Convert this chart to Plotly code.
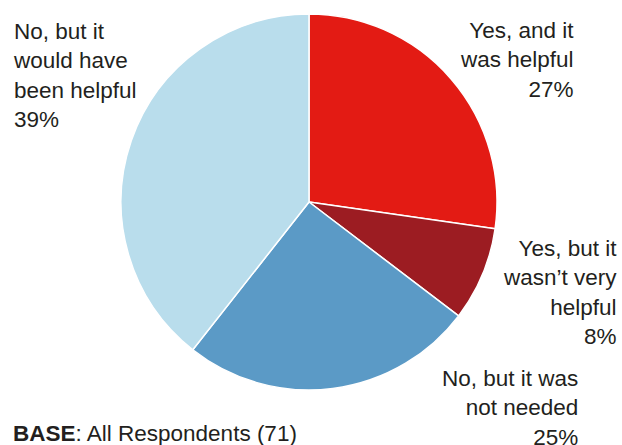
import plotly.graph_objects as go

# Survey responses, clockwise from 12 o'clock
labels = ["Yes, and it was helpful", "Yes, but it wasn’t very helpful",
          "No, but it was not needed", "No, but it would have been helpful"]
values = [27, 8, 25, 39]
colors = ["#E31B14", "#9C1C22", "#5B9AC6", "#B9DDEC"]

# Outside label text (line-broken) for each slice
label_lines = [
    ["Yes, and it", "was helpful"],
    ["Yes, but it", "wasn’t very", "helpful"],
    ["No, but it was", "not needed"],
    ["No, but it", "would have", "been helpful"],
]

W, H = 622, 445
cx, cy, r = 309, 202, 188

fig = go.Figure(go.Pie(
    labels=labels,
    values=values,
    marker=dict(colors=colors, line=dict(color="white", width=1.5)),
    sort=False,
    direction="clockwise",
    rotation=0,
    textinfo="none",
    hoverinfo="label+percent",
    showlegend=False,
    domain=dict(x=[(cx - r) / W, (cx + r) / W],
                y=[(H - cy - r) / H, (H - cy + r) / H]),
))

font = dict(family="Liberation Sans, Arial, sans-serif", size=22.5, color="#231F20")

# (x px, y px of top, x anchor, align) for each label
placements = [
    (576, 16, "right", "right"),
    (619, 234, "right", "right"),
    (580, 364, "right", "right"),
    (11, 17, "left", "left"),
]

for lines, v, (px, py, xa, al) in zip(label_lines, values, placements):
    fig.add_annotation(
        x=px / W, y=1 - py / H, xref="paper", yref="paper",
        xanchor=xa, yanchor="top", align=al, showarrow=False,
        text="<br>".join(lines + [f"{v}%"]), font=font,
    )

fig.add_annotation(
    x=11 / W, y=1 - 419 / H, xref="paper", yref="paper",
    xanchor="left", yanchor="top", align="left", showarrow=False,
    text="<b>BASE</b>: All Respondents (71)", font=font,
)

fig.update_layout(
    width=W, height=H,
    margin=dict(l=0, r=0, t=0, b=0),
    paper_bgcolor="white", plot_bgcolor="white",
)

fig.write_html("out.html")
